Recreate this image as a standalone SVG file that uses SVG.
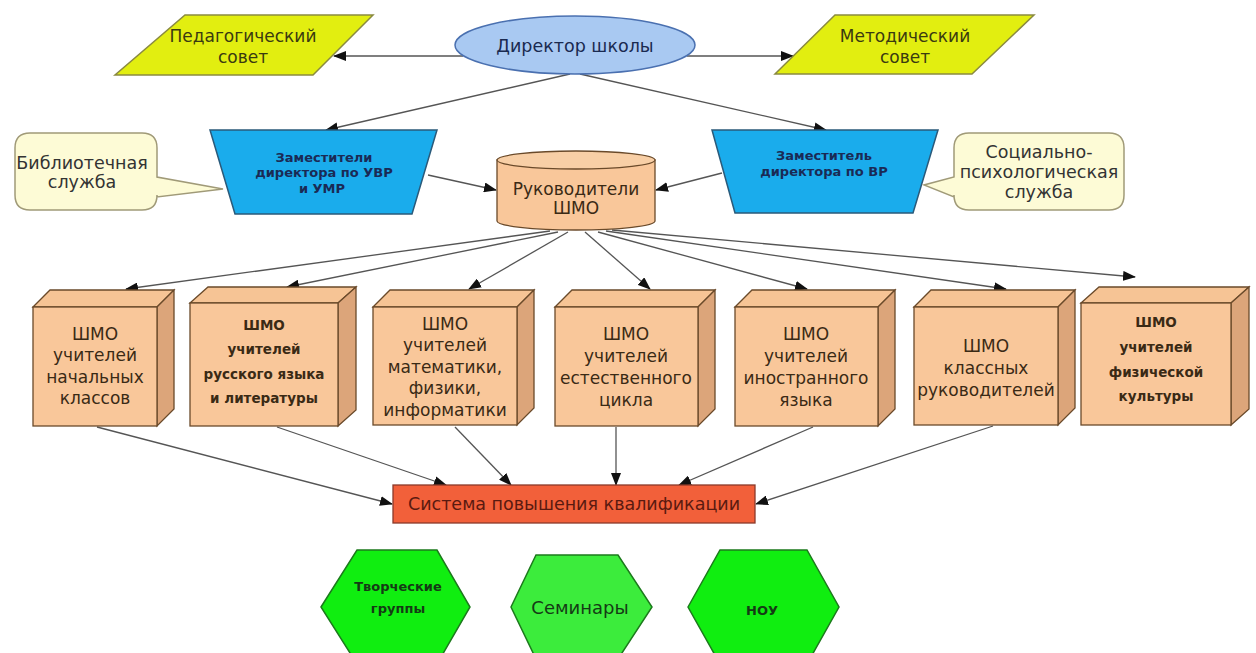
<svg xmlns="http://www.w3.org/2000/svg" width="1256" height="653" viewBox="0 0 1256 653">
<style>
text{font-family:"DejaVu Sans","Liberation Sans",sans-serif;text-anchor:middle}
.para{fill:#e2ee10;stroke:#8a8a40;stroke-width:1.5}
.para-t{font-size:17px;fill:#3a3a10}
.trap{fill:#1aacec;stroke:#2a5a7a;stroke-width:1.5}
.trap-t{font-size:13px;font-weight:bold;fill:#1a2a55}
.bub{fill:#fdfbd6;stroke:#a09a78;stroke-width:1.5}
.bub-t{font-size:17.5px;fill:#333}
.front{fill:#f9c79a;stroke:#6a4a2a;stroke-width:1.3}
.top{fill:#f6c495;stroke:#6a4a2a;stroke-width:1.3}
.side{fill:#dca57a;stroke:#6a4a2a;stroke-width:1.3}
.cube-t{font-size:17px;fill:#3a2a15}
.cube-s{font-size:13.5px;font-weight:bold;fill:#3a2a15}
.hex{stroke:#1c7a1c;stroke-width:1.5}
.hex-s{font-size:13px;font-weight:bold;fill:#153a15}
.conn line{stroke:#555;stroke-width:1.3;marker-end:url(#ah)}
</style>
<defs>
<marker id="ah" markerUnits="userSpaceOnUse" markerWidth="13" markerHeight="10" refX="12" refY="5" orient="auto">
<path d="M0,0 L13,5 L0,10 Z" fill="#111"/>
</marker>
</defs>
<rect width="1256" height="653" fill="#fff"/>

<g class="conn">
<line x1="463" y1="56" x2="334" y2="56"/>
<line x1="687" y1="56" x2="793" y2="56"/>
<line x1="570" y1="74" x2="326" y2="130"/>
<line x1="580" y1="74" x2="826" y2="130"/>
<line x1="428" y1="175" x2="496" y2="190"/>
<line x1="722" y1="173" x2="656" y2="190"/>
<line x1="550" y1="231" x2="126" y2="289"/>
<line x1="558" y1="232" x2="287" y2="287"/>
<line x1="568" y1="232" x2="469" y2="289"/>
<line x1="585" y1="232" x2="650" y2="289"/>
<line x1="598" y1="232" x2="807" y2="289"/>
<line x1="606" y1="231" x2="1006" y2="289"/>
<line x1="612" y1="230" x2="1135" y2="277"/>
<line x1="97" y1="427" x2="392" y2="504"/>
<line x1="277" y1="427" x2="446" y2="485"/>
<line x1="455" y1="427" x2="511" y2="485"/>
<line x1="616" y1="427" x2="616" y2="485"/>
<line x1="813" y1="427" x2="679" y2="485"/>
<line x1="993" y1="426" x2="756" y2="504"/>
</g>

<g id="director">
<ellipse cx="575" cy="45" rx="120" ry="29" fill="#a9c9f2" stroke="#4a70b0" stroke-width="1.5"/>
<text x="575" y="52" style="font-size:17.5px;fill:#1a2a50">Директор школы</text>
</g>

<g id="ped-sovet">
<polygon class="para" points="185,15 373,15 313,75 115,75"/>
<text class="para-t" x="243" y="42">Педагогический</text>
<text class="para-t" x="243" y="63">совет</text>
</g>

<g id="met-sovet">
<polygon class="para" points="835,15 1034,15 972,74 775,74"/>
<text class="para-t" x="905" y="42">Методический</text>
<text class="para-t" x="905" y="63">совет</text>
</g>

<g id="zam-uvr">
<polygon class="trap" points="210,130 437,130 412,214 235,214"/>
<text class="trap-t" x="324" y="162">Заместители</text>
<text class="trap-t" x="324" y="177">директора по УВР</text>
<text class="trap-t" x="322" y="193">и УМР</text>
</g>

<g id="zam-vr">
<polygon class="trap" points="712,130 938,130 913,213 735,213"/>
<text class="trap-t" x="824" y="160">Заместитель</text>
<text class="trap-t" x="824" y="176">директора по ВР</text>
</g>

<g id="library">
<path class="bub" d="M30,133 H142 Q157,133 157,148 V177 L223,189 L157,197 V195 Q157,210 142,210 H30 Q15,210 15,195 V148 Q15,133 30,133 Z"/>
<text class="bub-t" x="82" y="169">Библиотечная</text>
<text class="bub-t" x="82" y="188">служба</text>
</g>

<g id="social">
<path class="bub" d="M969,133 H1109 Q1124,133 1124,148 V195 Q1124,210 1109,210 H969 Q954,210 954,195 V197 L924,185 L954,177 V148 Q954,133 969,133 Z"/>
<text class="bub-t" x="1039" y="158">Социально-</text>
<text class="bub-t" x="1039" y="178">психологическая</text>
<text class="bub-t" x="1039" y="198">служба</text>
</g>

<g id="heads-shmo">
<path d="M497,160 V221 A79,9 0 0 0 655,221 V160 Z" fill="#f9c79a" stroke="#6a4a2a" stroke-width="1.3"/>
<ellipse cx="576" cy="160" rx="79" ry="9" fill="#f8cfa6" stroke="#6a4a2a" stroke-width="1.3"/>
<text x="576" y="195" style="font-size:17px;fill:#3a2a15">Руководители</text>
<text x="576" y="214" style="font-size:17px;fill:#3a2a15">ШМО</text>
</g>

<g id="shmo-1">
<polygon class="top" points="33,307 50,290 174,290 157,307"/>
<polygon class="side" points="157,307 174,290 174,409 157,426"/>
<rect class="front" x="33" y="307" width="124" height="119"/>
<text class="cube-t" x="95" y="340">ШМО</text>
<text class="cube-t" x="95" y="361">учителей</text>
<text class="cube-t" x="95" y="383">начальных</text>
<text class="cube-t" x="95" y="404">классов</text>
</g>

<g id="shmo-2">
<polygon class="top" points="190,303 208,287 356,287 338,303"/>
<polygon class="side" points="338,303 356,287 356,410 338,426"/>
<rect class="front" x="190" y="303" width="148" height="123"/>
<text class="cube-s" x="264" y="330">ШМО</text>
<text class="cube-s" x="264" y="354">учителей</text>
<text class="cube-s" x="264" y="379">русского языка</text>
<text class="cube-s" x="264" y="403">и литературы</text>
</g>

<g id="shmo-3">
<polygon class="top" points="373,307 390,290 534,290 517,307"/>
<polygon class="side" points="517,307 534,290 534,408 517,425"/>
<rect class="front" x="373" y="307" width="144" height="118"/>
<text class="cube-t" x="445" y="330">ШМО</text>
<text class="cube-t" x="445" y="351">учителей</text>
<text class="cube-t" x="445" y="373">математики,</text>
<text class="cube-t" x="445" y="394">физики,</text>
<text class="cube-t" x="445" y="416">информатики</text>
</g>

<g id="shmo-4">
<polygon class="top" points="555,307 572,290 715,290 698,307"/>
<polygon class="side" points="698,307 715,290 715,409 698,426"/>
<rect class="front" x="555" y="307" width="143" height="119"/>
<text class="cube-t" x="626" y="340">ШМО</text>
<text class="cube-t" x="626" y="362">учителей</text>
<text class="cube-t" x="626" y="384">естественного</text>
<text class="cube-t" x="626" y="406">цикла</text>
</g>

<g id="shmo-5">
<polygon class="top" points="735,307 752,290 895,290 878,307"/>
<polygon class="side" points="878,307 895,290 895,409 878,426"/>
<rect class="front" x="735" y="307" width="143" height="119"/>
<text class="cube-t" x="806" y="340">ШМО</text>
<text class="cube-t" x="806" y="362">учителей</text>
<text class="cube-t" x="806" y="384">иностранного</text>
<text class="cube-t" x="806" y="406">языка</text>
</g>

<g id="shmo-6">
<polygon class="top" points="914,307 931,290 1075,290 1058,307"/>
<polygon class="side" points="1058,307 1075,290 1075,408 1058,425"/>
<rect class="front" x="914" y="307" width="144" height="118"/>
<text class="cube-t" x="986" y="352">ШМО</text>
<text class="cube-t" x="986" y="374">классных</text>
<text class="cube-t" x="986" y="396">руководителей</text>
</g>

<g id="shmo-7">
<polygon class="top" points="1081,303 1099,287 1249,287 1231,303"/>
<polygon class="side" points="1231,303 1249,287 1249,409 1231,425"/>
<rect class="front" x="1081" y="303" width="150" height="122"/>
<text class="cube-s" x="1156" y="327">ШМО</text>
<text class="cube-s" x="1156" y="352">учителей</text>
<text class="cube-s" x="1156" y="377">физической</text>
<text class="cube-s" x="1156" y="401">культуры</text>
</g>

<g id="qualification">
<rect x="393" y="485" width="362" height="38" fill="#f2603a" stroke="#8a3a2a" stroke-width="1.3"/>
<text x="574" y="510" style="font-size:17.5px;fill:#5a1a10">Система повышения квалификации</text>
</g>

<g id="creative">
<polygon class="hex" fill="#10ee10" points="321,607 357,550 437,550 470,607 437,664 357,664"/>
<text class="hex-s" x="398" y="591">Творческие</text>
<text class="hex-s" x="398" y="613">группы</text>
</g>

<g id="seminars">
<polygon class="hex" fill="#3cec3c" points="511,607 536,555 618,555 652,607 618,659 536,659"/>
<text x="580" y="614" style="font-size:18px;fill:#153a15">Семинары</text>
</g>

<g id="nou">
<polygon class="hex" fill="#10ee10" points="688,607 720,550 807,550 839,607 807,664 720,664"/>
<text class="hex-s" x="762" y="615">НОУ</text>
</g>
</svg>
